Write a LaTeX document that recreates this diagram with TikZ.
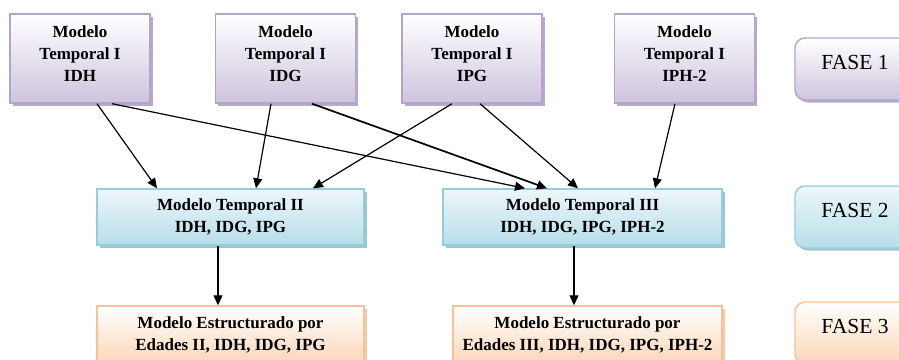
\documentclass[tikz,border=0pt]{standalone}
\usepackage{fontspec}
\setmainfont{Liberation Serif}
\usepackage{tikz}
\usetikzlibrary{arrows.meta,shadows,calc}
\definecolor{lavedge}{RGB}{180,164,204}
\definecolor{lavfill}{RGB}{206,196,222}
\definecolor{lavshadow}{RGB}{165,150,186}
\definecolor{aquaedge}{RGB}{146,206,222}
\definecolor{aquafill}{RGB}{183,222,233}
\definecolor{aquashadow}{RGB}{140,180,192}
\definecolor{peachedge}{RGB}{250,194,148}
\definecolor{peachfill}{RGB}{252,214,182}
\definecolor{peachshadow}{RGB}{238,190,150}

\begin{document}
\begin{tikzpicture}[x=1pt, y=-1pt,
    model/.style={rectangle, line width=1.4pt, inner sep=0pt, align=center,
        font=\fontsize{17}{22}\selectfont\bfseries},
    fase/.style={rectangle, rounded corners=10pt, line width=1.4pt, inner sep=0pt,
        minimum width=120pt, minimum height=62pt, text depth=14pt,
        font=\fontsize{21.5}{24}\selectfont},
    one/.style={draw=lavedge, top color=white, bottom color=lavfill,
        drop shadow={shadow xshift=2.5pt, shadow yshift=-2.5pt, fill=lavshadow, opacity=0.8}},
    two/.style={draw=aquaedge, top color=aquafill!25, bottom color=aquafill,
        drop shadow={shadow xshift=2.5pt, shadow yshift=-2.5pt, fill=aquashadow, opacity=0.8}},
    three/.style={draw=peachedge, top color=white, bottom color=peachfill,
        drop shadow={shadow xshift=2.5pt, shadow yshift=-2.5pt, fill=peachshadow, opacity=0.8}},
    arr/.style={-{Triangle[length=10pt, width=9pt]}, line width=1.2pt}
]
    \useasboundingbox (0,0) rectangle (899,359);

    % Fase 1
    \node[model, one, minimum width=140pt, minimum height=89pt, text depth=10pt] (idh) at (80,58.5) {Modelo\\Temporal I\\IDH};
    \node[model, one, minimum width=140pt, minimum height=89pt, text depth=10pt] (idg) at (285.5,58.5) {Modelo\\Temporal I\\IDG};
    \node[model, one, minimum width=140pt, minimum height=89pt, text depth=10pt] (ipg) at (472,58.5) {Modelo\\Temporal I\\IPG};
    \node[model, one, minimum width=140pt, minimum height=89pt, text depth=10pt] (iph) at (684.5,58.5) {Modelo\\Temporal I\\IPH-2};

    % Fase 2
    \node[model, two, minimum width=267pt, minimum height=56pt] (mt2) at (230.5,217) {Modelo Temporal II\\IDH, IDG, IPG};
    \node[model, two, minimum width=279pt, minimum height=56pt] (mt3) at (582.5,217) {Modelo Temporal III\\IDH, IDG, IPG, IPH-2};

    % Fase 3
    \node[model, three, minimum width=267pt, minimum height=58pt] (es2) at (230.5,335) {Modelo Estructurado por\\Edades II, IDH, IDG, IPG};
    \node[model, three, minimum width=269pt, minimum height=58pt] (es3) at (587.5,335) {Modelo Estructurado por\\Edades III, IDH, IDG, IPG, IPH-2};

    \node[fase, one] (f1) at (855,69) {FASE 1};
    \node[fase, two] (f2) at (855,217) {FASE 2};
    \node[fase, three] (f3) at (855,333) {FASE 3};

    \draw[arr] ([xshift=17pt]idh.south) -- ([xshift=-73.5pt]mt2.north);
    \draw[arr] ([xshift=32pt]idh.south) -- ([xshift=-57.5pt]mt3.north);
    \draw[arr] ([xshift=-14.5pt]idg.south) -- ([xshift=25.5pt]mt2.north);
    \draw[arr, line width=1.7pt] ([xshift=26.5pt]idg.south) -- ([xshift=-35.5pt]mt3.north);
    \draw[arr] ([xshift=-20pt]ipg.south) -- ([xshift=82.5pt]mt2.north);
    \draw[arr] ([xshift=8pt]ipg.south) -- ([xshift=-4.5pt]mt3.north);
    \draw[arr] ([xshift=-9.5pt]iph.south) -- ([xshift=72.5pt]mt3.north);
    \draw[arr] ([xshift=-12.5pt]mt2.south) -- ([xshift=-12.5pt]es2.north);
    \draw[arr] ([xshift=-8.5pt]mt3.south) -- ([xshift=-13.5pt]es3.north);
\end{tikzpicture}
\end{document}
